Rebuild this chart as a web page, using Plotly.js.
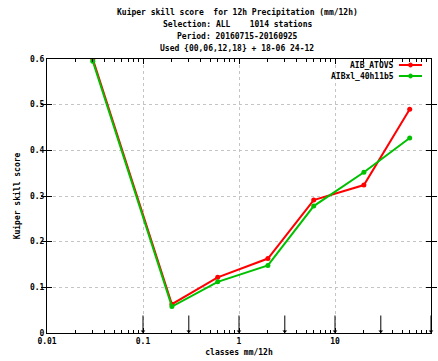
<!DOCTYPE html>
<html>
<head>
<meta charset="utf-8">
<script src="https://cdn.plot.ly/plotly-3.0.1.min.js"></script>
<style>html,body{margin:0;padding:0;background:#fff;}#chart{width:438px;height:361px;}</style>
</head>
<body>
<div id="chart"></div>
<script>
// Data
var classes = [0.03, 0.2, 0.6, 2, 6, 20, 60];
var seriesNames = ['AIB_ATOVS', 'AIBxl_40h11b5'];
var atovs = [0.600, 0.063, 0.122, 0.163, 0.291, 0.324, 0.490];
var aibxl = [0.595, 0.058, 0.112, 0.148, 0.278, 0.352, 0.427];
var classBounds = [0.1, 0.3, 1, 3, 10, 30, 100];
var xTickVals = [0.01, 0.1, 1, 10, 100];
var xTickText = ['0.01', '0.1', '1', '10', '100'];
var yTickVals = [0, 0.1, 0.2, 0.3, 0.4, 0.5, 0.6];
var yTickText = ['0', '0.1', '0.2', '0.3', '0.4', '0.5', '0.6'];
var titleLines = [
  'Kuiper skill score  for 12h Precipitation (mm/12h)',
  'Selection: ALL    1014 stations',
  'Period: 20160715-20160925',
  'Used {00,06,12,18} + 18-06 24-12'
];
var colors = ['#ff0000', '#00c000'];

var FONT = 'DejaVu Sans Mono, Liberation Mono, monospace';
var H = 361, T = 59, B = 28, PH = H - T - B;
function py(pix) { return (H - B - pix) / PH; }
function bold(a) { return a.map(function (s) { return '<b>' + s + '</b>'; }); }

// minor tick positions (2..9 in each decade)
var minorVals = [];
for (var d = -2; d < 2; d++) for (var k = 2; k <= 9; k++) minorVals.push(k * Math.pow(10, d));

var traces = [atovs, aibxl].map(function (vals, i) {
  return {
    x: classes, y: vals, type: 'scatter', mode: 'lines+markers',
    name: seriesNames[i],
    line: {color: colors[i], width: 2},
    marker: {color: colors[i], size: 5, symbol: 'circle'},
    showlegend: false
  };
});

var annotations = [];
var titleY = [12, 24, 36, 48];
titleLines.forEach(function (t, i) {
  annotations.push({
    text: '<b>' + t + '</b>', xref: 'paper', yref: 'paper',
    x: 0.495, y: py(titleY[i]), xanchor: 'center', yanchor: 'middle',
    showarrow: false, font: {family: FONT, size: 8, color: '#000'}
  });
});
classBounds.forEach(function (b) {
  annotations.push({
    x: Math.log10(b), y: 0, xref: 'x', yref: 'y', text: '',
    showarrow: true, arrowhead: 1, arrowsize: 0.8, arrowwidth: 1,
    arrowcolor: '#000', ax: 0, ay: -19
  });
});

// gnuplot-style legend: text right-aligned, sample to the right
var shapes = [];
var legY = [65, 76];
seriesNames.forEach(function (n, i) {
  annotations.push({
    text: '<b>' + n + '</b>', xref: 'paper', yref: 'paper',
    x: (396 - 47) / 384, y: py(legY[i]), xanchor: 'right', yanchor: 'middle',
    showarrow: false, font: {family: FONT, size: 8, color: '#000'}
  });
  shapes.push({
    type: 'line', xref: 'paper', yref: 'paper',
    x0: (399 - 47) / 384, x1: (422 - 47) / 384, y0: py(legY[i]), y1: py(legY[i]),
    line: {color: colors[i], width: 2}
  });
  shapes.push({
    type: 'circle', xref: 'paper', yref: 'paper',
    x0: (408.5 - 47) / 384, x1: (412.5 - 47) / 384,
    y0: py(legY[i] + 2), y1: py(legY[i] - 2),
    fillcolor: colors[i], line: {color: colors[i], width: 1}
  });
});

var layout = {
  width: 438, height: 361,
  margin: {l: 47, r: 7, t: T, b: B, pad: 0},
  paper_bgcolor: '#fff', plot_bgcolor: '#fff',
  font: {family: FONT, size: 8, color: '#000'},
  showlegend: false,
  xaxis: {
    type: 'log', range: [-2, 2],
    tickvals: xTickVals, ticktext: bold(xTickText),
    ticks: 'inside', ticklen: 5, tickcolor: '#000', tickwidth: 1,
    showgrid: true, gridcolor: '#c4c4c4', griddash: 'dot', gridwidth: 1,
    minor: {ticks: 'inside', ticklen: 3, tickcolor: '#000', tickvals: minorVals, showgrid: false},
    showline: true, linecolor: '#000', linewidth: 1, mirror: 'allticks',
    zeroline: false,
    title: {text: '<b>classes mm/12h</b>', font: {family: FONT, size: 8}, standoff: 4},
    tickfont: {family: FONT, size: 8}
  },
  xaxis2: {
    type: 'log', range: [-2, 2], overlaying: 'x', side: 'top', anchor: 'y',
    tickvals: xTickVals, showticklabels: false,
    ticks: 'inside', ticklen: 5, tickcolor: '#000',
    minor: {ticks: 'inside', ticklen: 3, tickcolor: '#000', tickvals: minorVals, showgrid: false},
    showgrid: false, zeroline: false, showline: false
  },
  yaxis: {
    range: [0, 0.6], tickvals: yTickVals, ticktext: bold(yTickText),
    ticks: 'inside', ticklen: 5, tickcolor: '#000',
    showgrid: true, gridcolor: '#c4c4c4', griddash: 'dot', gridwidth: 1,
    showline: true, linecolor: '#000', linewidth: 1, mirror: 'allticks',
    zeroline: false,
    title: {text: '<b>Kuiper skill score</b>', font: {family: FONT, size: 8}, standoff: 8},
    tickfont: {family: FONT, size: 8}
  },
  annotations: annotations,
  shapes: shapes
};

// invisible trace to make the top axis render
traces.push({x: classes, y: atovs, xaxis: 'x2', yaxis: 'y', type: 'scatter', mode: 'lines',
  line: {width: 0, color: 'rgba(0,0,0,0)'}, hoverinfo: 'skip', showlegend: false});

Plotly.newPlot('chart', traces, layout, {staticPlot: true, displayModeBar: false});
</script>
</body>
</html>
